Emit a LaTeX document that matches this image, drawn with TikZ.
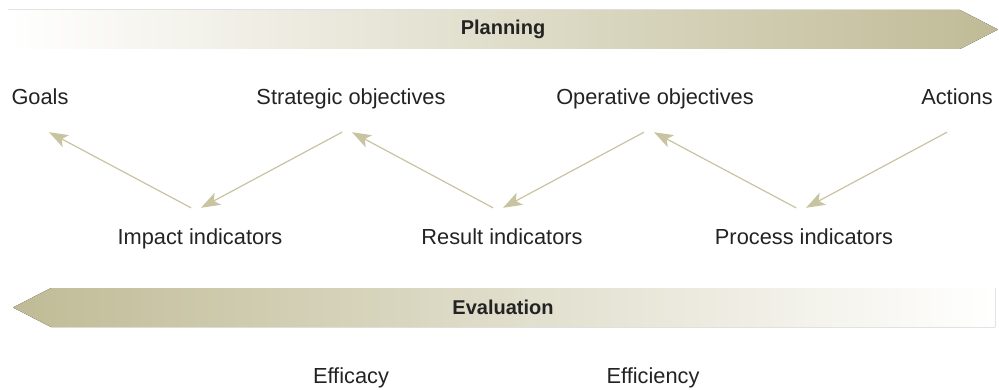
\documentclass[tikz,border=0pt]{standalone}
\usepackage{fontspec}
\setmainfont{Liberation Sans}
\usetikzlibrary{arrows.meta}

\definecolor{bandtan}{RGB}{192,187,150}
\definecolor{arrowtan}{RGB}{200,195,160}
\definecolor{ink}{RGB}{35,35,35}

\tikzset{
  lbl/.style={inner sep=0pt, anchor=base, text=ink,
    font=\fontsize{21.8}{26}\selectfont, text height=15.5pt, text depth=4.5pt},
  bandlbl/.style={inner sep=0pt, text=ink, font=\bfseries\fontsize{20}{24}\selectfont},
  flow/.style={draw=arrowtan, line width=1.2pt,
    -{Stealth[length=19pt, width=13.5pt, inset=4.5pt, fill=arrowtan]}},
  up/.style={yshift=-22.5pt},
  down/.style={yshift=21.5pt}
}

\begin{document}
\begin{tikzpicture}[x=1pt, y=-1pt]
  \useasboundingbox (0,0) rectangle (999,390);

  % planning band, pointing right
  \fill[left color=white, right color=bandtan]
    (8,10) -- (960,10) -- (998,29.5) -- (960,49) -- (8,49) -- cycle;
  \node[bandlbl] (planning) at (503,29.5) {Planning};

  % evaluation band, pointing left
  \fill[left color=bandtan, right color=white]
    (13,307.5) -- (51,288) -- (995,288) -- (995,327) -- (51,327) -- cycle;
  \node[bandlbl] (evaluation) at (503,307.5) {Evaluation};

  % planning levels
  \node[lbl] (goals)   at (40,105)  {Goals};
  \node[lbl] (strat)   at (351,105) {Strategic objectives};
  \node[lbl] (oper)    at (655,105) {Operative objectives};
  \node[lbl] (actions) at (957,105) {Actions};

  % indicator levels
  \node[lbl] (impact)  at (200,245) {Impact indicators};
  \node[lbl] (result)  at (502,245) {Result indicators};
  \node[lbl] (process) at (804,245) {Process indicators};

  % evaluation criteria
  \node[lbl] (efficacy)   at (351,383) {Efficacy};
  \node[lbl] (efficiency) at (653,383) {Efficiency};

  % zigzag of links between levels and indicators
  \draw[flow] ([down, xshift=-9pt]impact.north)  -- ([up, xshift=9pt]goals.south);
  \draw[flow] ([up, xshift=-9pt]strat.south)     -- ([down, xshift=1pt]impact.north);
  \draw[flow] ([down, xshift=-9pt]result.north)  -- ([up, xshift=1pt]strat.south);
  \draw[flow] ([up, xshift=-11pt]oper.south)     -- ([down, xshift=1pt]result.north);
  \draw[flow] ([down, xshift=-8pt]process.north) -- ([up, xshift=-1pt]oper.south);
  \draw[flow] ([up, xshift=-10pt]actions.south)  -- ([down, xshift=2pt]process.north);
\end{tikzpicture}
\end{document}
